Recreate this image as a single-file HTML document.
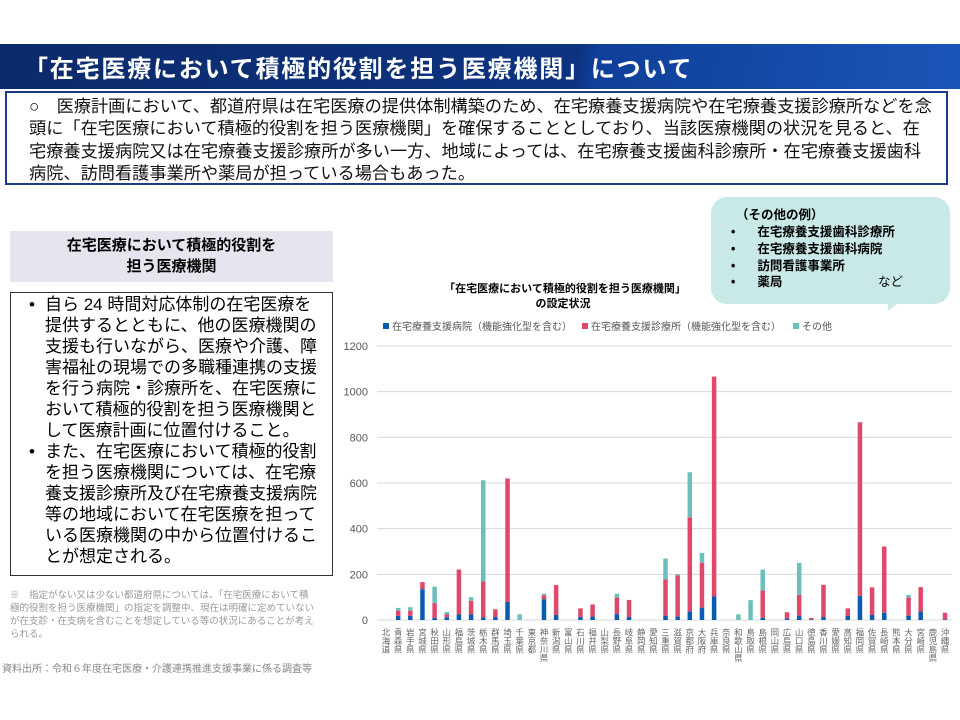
<!DOCTYPE html>
<html><head><meta charset="utf-8">
<style>
body{margin:0;width:960px;height:720px;background:#fff;font-family:"Liberation Sans","Noto Sans CJK JP",sans-serif;position:relative;overflow:hidden}
.abs{position:absolute}
#hdr{left:0;top:44px;width:960px;height:45px;background:linear-gradient(100deg,#0b2a6b 0%,#0d3380 60%,#0f3f9a 62%,#1a56b8 100%)}
#hdr span{position:absolute;left:24px;top:5px;color:#fff;font-size:24px;font-weight:bold;letter-spacing:1.8px;white-space:nowrap}
#summary{left:5px;top:91px;width:943px;height:94px;border:2px solid #1a3a8a;box-sizing:border-box;padding:2px 0 0 22px;font-size:17.2px;line-height:22.3px;color:#111;white-space:nowrap;overflow:hidden}
#ltitle{left:10px;top:231px;width:323px;height:51px;background:#e5e5ef;text-align:center;font-weight:bold;font-size:15px;line-height:21px;padding-top:4px;box-sizing:border-box}
#lbox{left:10px;top:292px;width:323px;height:284px;border:1px solid #333;box-sizing:border-box;padding:1px 0 0 8px;font-size:17px;line-height:21px;white-space:nowrap}
#lbox .b{display:flex}#lbox .b i{font-style:normal;width:26px;flex:none;text-align:center}
#note{left:10px;top:589px;width:340px;font-size:9.5px;line-height:13px;color:#999;white-space:nowrap}
#src{left:2px;top:660px;font-size:10px;color:#888}
#callout{left:711px;top:197px;width:239px;height:107px;background:#c9e8e8;border-radius:16px;font-size:12.5px;font-weight:bold;line-height:16.5px}
#tail{left:888px;top:303px;width:0;height:0;border-left:10px solid #c9e8e8;border-bottom:8px solid transparent}
</style></head><body>
<div id="hdr" class="abs"><span>「在宅医療において積極的役割を担う医療機関」について</span></div>
<div id="summary" class="abs">○　医療計画において、都道府県は在宅医療の提供体制構築のため、在宅療養支援病院や在宅療養支援診療所などを念<br>頭に「在宅医療において積極的役割を担う医療機関」を確保することとしており、当該医療機関の状況を見ると、在<br>宅療養支援病院又は在宅療養支援診療所が多い一方、地域によっては、在宅療養支援歯科診療所・在宅療養支援歯科<br>病院、訪問看護事業所や薬局が担っている場合もあった。</div>
<div id="ltitle" class="abs">在宅医療において積極的役割を<br>担う医療機関</div>
<div id="lbox" class="abs">
<div class="b"><i>•</i><span>自ら 24 時間対応体制の在宅医療を<br>提供するとともに、他の医療機関の<br>支援も行いながら、医療や介護、障<br>害福祉の現場での多職種連携の支援<br>を行う病院・診療所を、在宅医療に<br>おいて積極的役割を担う医療機関と<br>して医療計画に位置付けること。</span></div>
<div class="b"><i>•</i><span>また、在宅医療において積極的役割<br>を担う医療機関については、在宅療<br>養支援診療所及び在宅療養支援病院<br>等の地域において在宅医療を担って<br>いる医療機関の中から位置付けるこ<br>とが想定される。</span></div>
</div>
<div id="note" class="abs">※　指定がない又は少ない都道府県については、「在宅医療において積<br>極的役割を担う医療機関」の指定を調整中、現在は明確に定めていない<br>が在支診・在支病を含むことを想定している等の状況にあることが考え<br>られる。</div>
<div id="src" class="abs">資料出所：令和６年度在宅医療・介護連携推進支援事業に係る調査等</div>
<div id="callout" class="abs">
<div style="position:absolute;left:25px;top:10px">（その他の例）</div>
<div style="position:absolute;left:20px;top:27px">•<span style="margin-left:22px">在宅療養支援歯科診療所</span></div>
<div style="position:absolute;left:20px;top:44px">•<span style="margin-left:22px">在宅療養支援歯科病院</span></div>
<div style="position:absolute;left:20px;top:61px">•<span style="margin-left:22px">訪問看護事業所</span></div>
<div style="position:absolute;left:20px;top:77px">•<span style="margin-left:22px">薬局</span><span style="position:absolute;left:147px;font-weight:normal;white-space:nowrap">など</span></div>
</div>
<div id="tail" class="abs"></div>
<svg class="abs" style="left:0;top:0" width="960" height="720" id="chart">
<text x="565" y="292" text-anchor="middle" font-size="11" font-weight="bold">「在宅医療において積極的役割を担う医療機関」</text>
<text x="563" y="307" text-anchor="middle" font-size="11" font-weight="bold">の設定状況</text>
<g id="legend" font-size="10" fill="#555"></g>
<g id="grid"></g><g id="bars"></g><g id="xl"></g>
</svg>
<script>
const prefectures=["北海道","青森県","岩手県","宮城県","秋田県","山形県","福島県","茨城県","栃木県","群馬県","埼玉県","千葉県","東京都","神奈川県","新潟県","富山県","石川県","福井県","山梨県","長野県","岐阜県","静岡県","愛知県","三重県","滋賀県","京都府","大阪府","兵庫県","奈良県","和歌山県","鳥取県","島根県","岡山県","広島県","山口県","徳島県","香川県","愛媛県","高知県","福岡県","佐賀県","長崎県","熊本県","大分県","宮崎県","鹿児島県","沖縄県"];
const hospitals=[0,18,18,135,9,12,24,24,12,13,79,0,0,91,22,0,13,15,0,26,13,0,0,19,15,38,54,103,0,0,0,10,0,7,19,3,13,0,19,106,22,32,0,19,37,0,3];
const clinics=[0,23,23,31,65,14,197,60,157,34,541,0,0,18,131,0,38,53,0,73,75,0,0,159,181,412,197,963,0,0,0,119,0,27,91,6,141,0,32,760,121,290,0,80,107,0,29];
const others=[0,12,15,0,72,9,0,16,443,0,0,25,0,6,0,0,0,0,0,16,0,0,0,91,5,197,43,0,0,25,87,92,0,0,140,0,0,0,0,0,0,0,0,11,0,0,0];
const yTicks=[0,200,400,600,800,1000,1200];
const seriesNames=["在宅療養支援病院（機能強化型を含む）","在宅療養支援診療所（機能強化型を含む）","その他"];
const colors=["#0a5cb0","#e0486a","#6cbfbb"];
const NS="http://www.w3.org/2000/svg";
const y0=620,yTop=346,yMax=1200,xFirst=386,xLast=945,bw=4.5;
const yS=v=>y0-(y0-yTop)*v/yMax;
const xS=i=>xFirst+(xLast-xFirst)*i/(prefectures.length-1);
function mk(t,a,p){const e=document.createElementNS(NS,t);for(const k in a)e.setAttribute(k,a[k]);p.appendChild(e);return e;}
const grid=document.getElementById('grid');
yTicks.forEach(v=>{
 const l=mk('line',{x1:377,x2:952,y1:yS(v),y2:yS(v),stroke:'#d9d9d9','stroke-width':1},grid);
 
 
 const t=mk('text',{x:368,y:yS(v)+4,'text-anchor':'end','font-size':11,fill:'#595959'},grid);
 t.textContent=v;
 
 
});
const bars=document.getElementById('bars');
const series=[hospitals,clinics,others];
prefectures.forEach((p,i)=>{
 let base=0;
 series.forEach((s,k)=>{
  const v=s[i];if(v<=0)return;
  const r=mk('rect',{x:xS(i)-bw/2,y:yS(base+v),width:bw,height:yS(base)-yS(base+v),fill:colors[k]},bars);
  
  
  base+=v;
 });
 const t=mk('text',{x:xS(i),y:628,'font-size':8.5,fill:'#666','writing-mode':'tb','glyph-orientation-vertical':0,'text-anchor':'start'},document.getElementById('xl'));
 t.textContent=p;
 
 
});
const lg=document.getElementById('legend');
const lx=[383,582,793];
seriesNames.forEach((n,k)=>{
 const r=mk('rect',{x:lx[k],y:323,width:6,height:6,fill:colors[k]},lg);
 
 
 const t=mk('text',{x:lx[k]+9,y:330},lg);
 t.textContent=n;
 
 
});
</script>
</body></html>
